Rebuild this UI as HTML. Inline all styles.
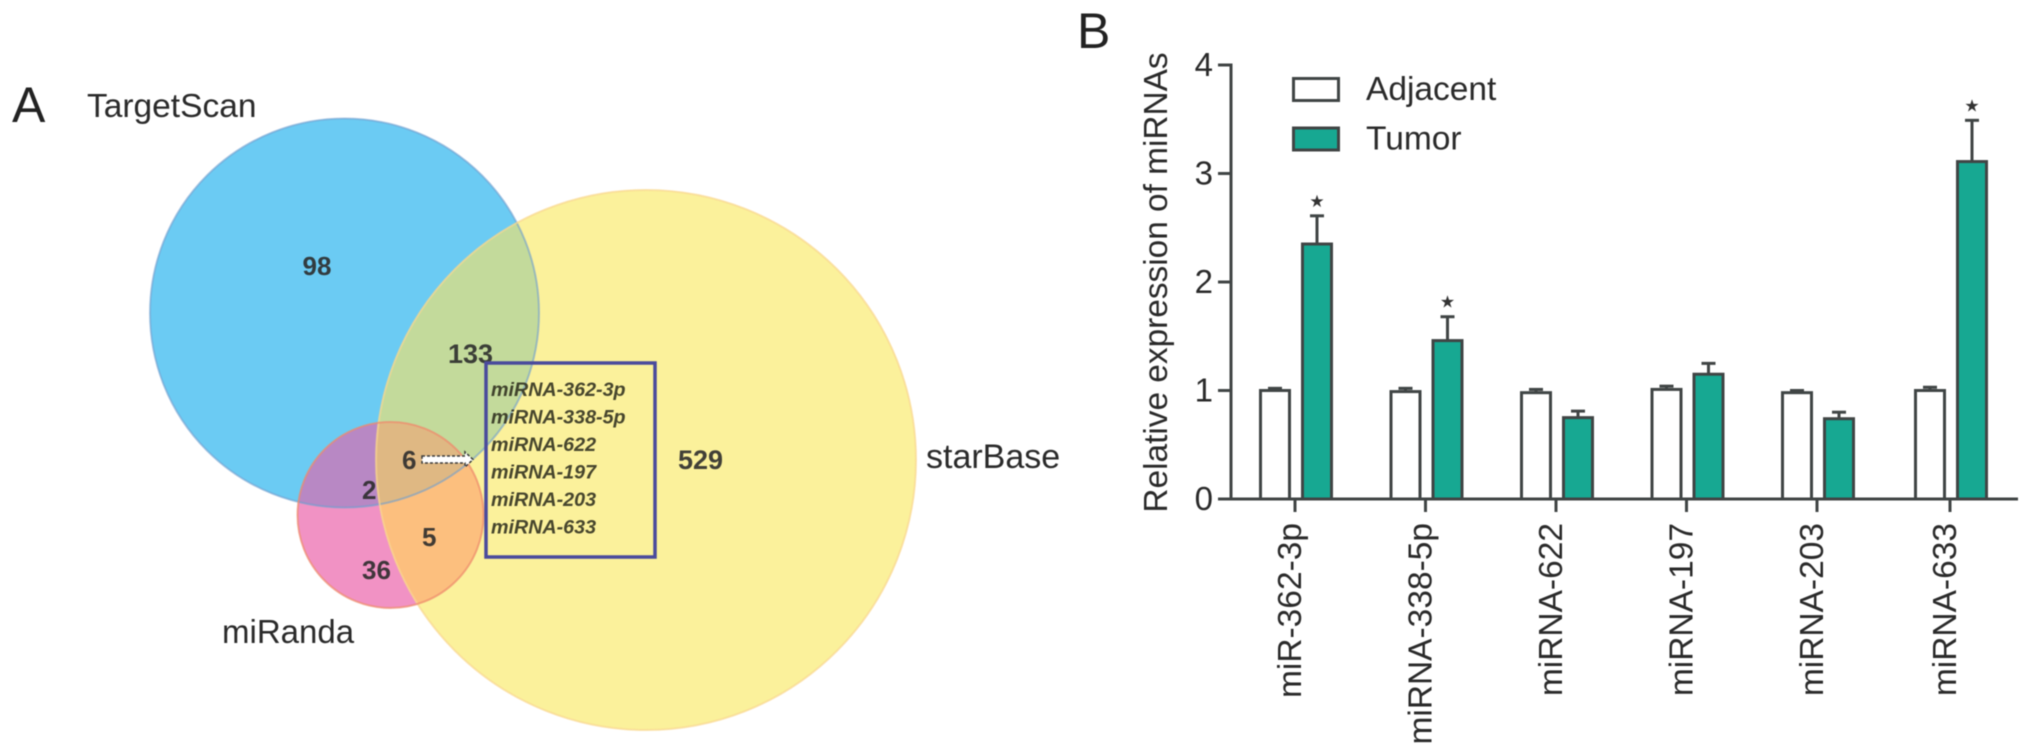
<!DOCTYPE html>
<html>
<head>
<meta charset="utf-8">
<title>Venn diagram and miRNA expression</title>
<style>
html,body{margin:0;padding:0;background:#fff;width:2032px;height:755px;overflow:hidden}
svg{display:block;filter:blur(0.5px)}
text{font-family:"Liberation Sans",sans-serif;fill:#222}
.num{font-weight:bold;font-size:26px;fill:#2c2c2c;fill-opacity:.9}
.mi{font-weight:bold;font-style:italic;font-size:19.7px;fill:#2e2e1e;fill-opacity:.88}
.lab{font-size:33.500px;fill:#2a2a2a}
.tick{font-size:33px;fill:#2a2a2a}
</style>
</head>
<body>
<svg id="figure" xmlns="http://www.w3.org/2000/svg" width="2032" height="755" viewBox="0 0 2032 755">
  <defs>
    <clipPath id="clip-blue"><circle cx="344.5" cy="313" r="194.5"/></clipPath>
    <clipPath id="clip-yellow"><circle cx="646" cy="460" r="270"/></clipPath>
    <clipPath id="clip-red"><circle cx="390.5" cy="515" r="93"/></clipPath>
  </defs>

  <text x="12" y="122" font-size="50">A</text>
  <text x="1077" y="48" font-size="50">B</text>

  <g id="venn">
    <circle cx="390.5" cy="515" r="93" fill="#f192c4"/>
    <circle cx="344.5" cy="313" r="194.5" fill="#6bcbf3"/>
    <circle cx="646" cy="460" r="270" fill="#fbf19b"/>
    <g clip-path="url(#clip-blue)"><circle cx="646" cy="460" r="270" fill="#c3da9b"/></g>
    <g clip-path="url(#clip-red)"><circle cx="344.5" cy="313" r="194.5" fill="#b888c4"/></g>
    <g clip-path="url(#clip-red)"><circle cx="646" cy="460" r="270" fill="#fcbf7e"/></g>
    <g clip-path="url(#clip-red)"><g clip-path="url(#clip-blue)"><circle cx="646" cy="460" r="270" fill="#dfb883"/></g></g>
    <circle cx="344.5" cy="313" r="194.5" fill="none" stroke="#6f9fcf" stroke-opacity=".6" stroke-width="2"/>
    <circle cx="646" cy="460" r="270" fill="none" stroke="#fad78f" stroke-opacity=".7" stroke-width="2"/>
    <circle cx="390.5" cy="515" r="93" fill="none" stroke="#ee8a6c" stroke-opacity=".7" stroke-width="2"/>

    <text class="lab" x="87" y="117">TargetScan</text>
    <text class="lab" x="926" y="468" style="font-size:34px">starBase</text>
    <text class="lab" x="222" y="643" style="font-size:33px">miRanda</text>

    <text class="num" x="302.500" y="275">98</text>
    <text class="num" x="448" y="363" style="font-size:27px">133</text>
    <text class="num" x="678" y="469" style="font-size:27px">529</text>
    <text class="num" x="402" y="469">6</text>
    <text class="num" x="362" y="499">2</text>
    <text class="num" x="422" y="546">5</text>
    <text class="num" x="362" y="579">36</text>

    <g>
      <path d="M422 456H465V452L473 459.500L465 467V463H422Z" fill="#fff" stroke="#3a3a3a" stroke-width="1.500" stroke-dasharray="3 2"/>
    </g>

    <rect x="486" y="363" width="169" height="194" fill="none" stroke="#4a4a9c" stroke-width="3.500"/>
    <text class="mi" x="491" y="396">miRNA-362-3p</text>
    <text class="mi" x="491" y="423.500">miRNA-338-5p</text>
    <text class="mi" x="491" y="451">miRNA-622</text>
    <text class="mi" x="491" y="478.500">miRNA-197</text>
    <text class="mi" x="491" y="506">miRNA-203</text>
    <text class="mi" x="491" y="533.500">miRNA-633</text>
  </g>

  <g id="chart"></g>
</svg>
<script>
const categories = ["miR-362-3p", "miRNA-338-5p", "miRNA-622", "miRNA-197", "miRNA-203", "miRNA-633"];
const adjacentValues = [1.00, 0.99, 0.98, 1.01, 0.98, 1.00];
const adjacentErrors = [0.02, 0.03, 0.03, 0.03, 0.02, 0.03];
const tumorValues = [2.35, 1.46, 0.75, 1.15, 0.74, 3.11];
const tumorErrors = [0.26, 0.22, 0.06, 0.10, 0.06, 0.38];
const significant = [true, true, false, false, false, true];
const yTicks = [0, 1, 2, 3, 4];
const legendLabels = ["Adjacent", "Tumor"];

const NS = "http://www.w3.org/2000/svg";
const chart = document.getElementById("chart");
const INK = "#404545";
const TEAL = "#17a892";

function yScale(v) { return 499 - 108.5 * v; }
function xScale(i) { return 1295 + 130.5 * i + (i === categories.length - 1 ? 2.5 : 0); }

function make(tag, attrs, text) {
  const el = document.createElementNS(NS, tag);
  for (const k in attrs) el.setAttribute(k, attrs[k]);
  if (text !== undefined) el.textContent = text;
  chart.appendChild(el);
  return el;
}

// Bars and error bars
function drawBar(i, value, error, offset, fill, seriesName) {
  const cx = xScale(i) + offset;
  const top = yScale(value);
  const capY = yScale(value + error);
  const stem = make("line", { x1: cx, x2: cx, y1: top, y2: capY, stroke: INK, "stroke-width": 3 });
  
  
  const cap = make("line", { x1: cx - 7, x2: cx + 7, y1: capY, y2: capY, stroke: INK, "stroke-width": 3 });
  
  
  const bar = make("rect", { x: cx - 14.5, y: top, width: 29, height: 499 - top, fill: fill, stroke: INK, "stroke-width": 3 });
  
  
}

categories.forEach(function (name, i) {
  drawBar(i, adjacentValues[i], adjacentErrors[i], -20, "#fff", "adjacent");
  drawBar(i, tumorValues[i], tumorErrors[i], 22, TEAL, "tumor");
  if (significant[i]) {
    const star = make("text", {
      x: xScale(i) + 22,
      y: yScale(tumorValues[i] + tumorErrors[i]) - 9,
      "text-anchor": "middle",
      "font-size": 17,
      style: 'font-family:"DejaVu Sans",sans-serif;fill:#333'
    }, "\u2605");
    
    
  }
});

// Axes
const yAxis = make("line", { x1: 1231, x2: 1231, y1: yScale(yTicks[yTicks.length - 1]) - 1.5, y2: yScale(yTicks[0]) + 1.5, stroke: INK, "stroke-width": 3 });


const xAxis = make("line", { x1: 1218, x2: 2018, y1: yScale(0), y2: yScale(0), stroke: INK, "stroke-width": 3 });



yTicks.forEach(function (t) {
  const mark = make("line", { x1: 1218, x2: 1231, y1: yScale(t), y2: yScale(t), stroke: INK, "stroke-width": 3 });
  
  
  const label = make("text", { class: "tick", x: 1213, y: yScale(t) + 11, "text-anchor": "end" }, String(t));
  
  
});

categories.forEach(function (name, i) {
  const mark = make("line", { x1: xScale(i), x2: xScale(i), y1: yScale(0), y2: 512, stroke: INK, "stroke-width": 3 });
  
  
  const lx = xScale(i) + 6;
  const label = make("text", { x: lx, y: 523, "text-anchor": "end", "font-size": 33.5, transform: "rotate(-90 " + lx + " 523)", style: "fill:#2a2a2a" }, name);
  
  
});

const yTitle = make("text", { x: 1167, y: 282.5, "text-anchor": "middle", "font-size": 33.4, transform: "rotate(-90 1167 282.5)", style: "fill:#2a2a2a" }, "Relative expression of miRNAs");



// Legend
legendLabels.forEach(function (label, i) {
  const top = 78.5 + 49.5 * i;
  const swatch = make("rect", { x: 1293.5, y: top, width: 45, height: 22, fill: i === 0 ? "#fff" : TEAL, stroke: INK, "stroke-width": 3 });
  
  
  const entry = make("text", { x: 1366, y: top + 21.5, "font-size": 33.5, style: "fill:#2a2a2a" }, label);
  
  
});
</script>
</body>
</html>
